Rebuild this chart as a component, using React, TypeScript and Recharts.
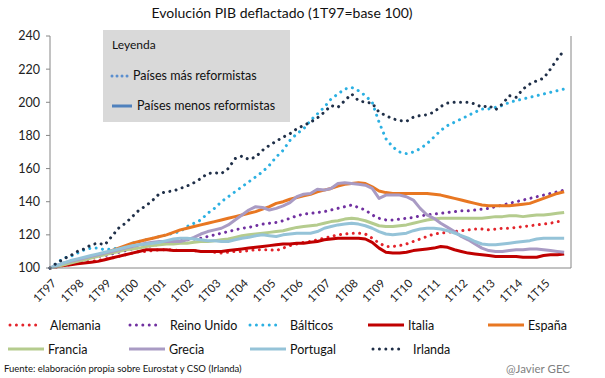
import React from 'react';
import { LineChart, Line, XAxis, YAxis } from 'recharts';

const years = ['97', '98', '99', '00', '01', '02', '03', '04', '05', '06', '07', '08', '09', '10', '11', '12', '13', '14', '15'];
const quarterNames = ['1T', '2T', '3T', '4T'];
const quarters = years.flatMap((y) => quarterNames.map((q) => q + y));
const yAxisTicks = [100, 120, 140, 160, 180, 200, 220, 240];

const alemania = [
  100, 100.5, 101.5, 102, 103, 103.5, 104, 104.5,
  105.5, 106, 107, 108, 109, 110, 110, 110.5,
  111, 111, 111, 110.5, 110.5, 110.5, 110, 110,
  109.5, 109, 109.5, 110, 110, 110.5, 111, 111,
  111, 110.5, 112, 113.5, 114.5, 115.5, 116, 117,
  118, 119, 120, 120.5, 121, 121, 120.5, 118,
  115, 113, 113, 113.5, 114.5, 116, 117.5, 119,
  120.5, 121, 121.5, 122, 122.5, 123, 123.5, 123.5,
  123, 123.5, 124, 124, 124.5, 125, 125.5, 126,
  126.5, 127, 128, 128,
];
const reinoUnido = [
  100, 101, 102, 103, 104, 105, 106, 107,
  107.5, 108.5, 109.5, 110.5, 111.5, 112.5, 113, 113.5,
  114.5, 115, 116, 116.5, 117, 117.5, 118, 119,
  120, 121, 122, 123, 124, 124.5, 125.5, 126.5,
  127, 127.5, 128.5, 130, 131.5, 132.5, 133, 133.5,
  134, 135, 136, 137, 138, 136.5, 135, 132,
  130, 129, 129, 129.5, 130, 130.5, 131.5, 132,
  132.5, 133, 133.5, 134, 134.5, 134.5, 135, 135.5,
  136, 137, 138, 139, 140, 141, 142, 143,
  144, 145, 146, 147,
];
const balticos = [
  100, 103, 106, 107, 109, 111, 112, 112,
  111, 111.5, 112, 113, 115, 116, 117, 118,
  119, 120, 121, 122, 125, 127, 129, 133,
  136, 140, 143, 146, 149, 152, 155, 158,
  162, 167, 171, 177, 181, 184, 189, 193,
  197, 202, 205, 208, 209, 207, 204, 200,
  188, 178, 173, 170, 169, 170, 172, 175,
  179, 183, 186, 188, 190, 192, 194, 196,
  196, 197, 198, 200, 201, 202, 203, 204,
  205, 206, 207, 208,
];
const italia = [
  100, 101, 101.5, 102, 102.5, 103, 103.5, 104,
  105, 106, 107, 108, 109, 110, 111, 111,
  111, 111, 110.5, 110.5, 110.5, 110.5, 110, 110,
  110, 110, 110.5, 111, 111.5, 112, 112.5, 113,
  113.5, 114, 114.5, 114.5, 115, 115, 115.5, 116,
  117, 117.5, 118, 118, 118, 118, 117.5, 115.5,
  112, 109.5, 109, 109, 109.5, 110.5, 111, 111.5,
  112, 113, 112.5, 111, 110, 109, 108.5, 108,
  107.5, 107, 107, 107, 107, 106.5, 106.5, 106.5,
  107.5, 108, 108, 108.5,
];
const espana = [
  100, 101, 102, 103.5, 104.5, 105.5, 106.5, 108,
  109, 110.5, 112, 113.5, 115, 116, 117, 118,
  119, 120, 121.5, 123, 124, 125, 126, 127,
  128, 129, 130, 131, 132, 133, 134, 135.5,
  137, 139, 140, 141.5, 142.5, 143.5, 144.5, 146,
  147, 148, 149.5, 150.5, 151, 151.5, 151, 149,
  146.5, 145.5, 145, 145, 145, 145, 145, 145,
  144.5, 144, 143, 142, 141, 140, 139, 138,
  137.5, 137.5, 137.5, 137.5, 138, 138.5, 139, 140.5,
  142, 143.5, 145, 146,
];
const francia = [
  100, 101, 102, 103, 104, 105, 106, 107,
  108, 109, 110, 111, 111.5, 112, 113, 113.5,
  114, 114.5, 114.5, 115, 115, 115.5, 116, 116,
  116.5, 117, 117.5, 118.5, 119.5, 120, 120.5, 121,
  121.5, 122, 122.5, 123.5, 124.5, 125, 125.5, 126,
  127, 128, 128.5, 129.5, 130, 129.5, 128.5, 127,
  125.5, 125, 125, 125.5, 126, 127, 128, 129,
  129.5, 130, 130, 130, 130, 130, 130, 130,
  130.5, 131, 131, 131.5, 131.5, 131, 131.5, 132,
  132, 132.5, 133, 133.5,
];
const grecia = [
  100, 101.5, 103, 104, 105, 106, 107, 108,
  109, 110, 111, 112, 113, 114, 115, 115.5,
  116, 116, 116, 116, 117, 118.5, 120.5, 122,
  123, 124, 126, 129, 132, 135, 137, 136.5,
  135, 136, 137.5, 139.5, 143, 144.5, 145, 147.5,
  147, 148, 151, 151.5, 151, 150.5, 150, 148,
  142, 144, 144, 144, 143, 141, 136, 132,
  130, 127, 124.5, 122, 119, 117, 114.5, 112,
  110.5, 110, 110, 110.5, 111, 111, 111.5, 111.5,
  111, 110.5, 110, 109.5,
];
const portugal = [
  100, 101.5, 103, 104.5, 105.5, 106.5, 107.5, 108.5,
  109.5, 110.5, 111.5, 112.5, 113.5, 114, 114.5, 115,
  115.5, 116.5, 117.5, 118, 118, 117.5, 117, 116.5,
  116.5, 116, 116, 117, 118, 118.5, 119.5, 120,
  119.5, 119, 120, 120.5, 121, 121, 121, 122,
  124, 125, 126, 126.5, 127, 126.5, 125.5, 124,
  122, 120.5, 120, 120.5, 121, 122.5, 123.5, 124,
  124, 123.5, 122.5, 121, 119.5, 118, 116, 114.5,
  114, 114, 114.5, 115, 115.5, 116, 116.5, 117.5,
  118, 118, 118, 118,
];
const irlanda = [
  100, 103, 105.5, 107.5, 110, 111.5, 114, 115,
  114, 119, 124, 127, 131, 135, 137.5, 141,
  145, 146, 146.5, 148, 149.5, 151.5, 154, 157,
  157.5, 157, 160, 166, 167.5, 165.5, 167, 171,
  174, 176.5, 179, 181, 184, 186, 188, 190.5,
  194, 198, 197, 201, 205, 201, 200, 199.5,
  194, 192, 190, 189, 188.5, 191, 192, 192.5,
  194, 197.5, 199.5, 200, 200, 200, 199, 197,
  198, 195.5, 199, 204, 203, 208, 211, 213,
  214.5, 220, 226, 231.5,
];

const series = [
  { name: 'Alemania', values: alemania, color: '#e3242b', dotted: true },
  { name: 'Reino Unido', values: reinoUnido, color: '#7030a0', dotted: true },
  { name: 'Bálticos', values: balticos, color: '#2bb0e2', dotted: true },
  { name: 'Italia', values: italia, color: '#c00000', dotted: false },
  { name: 'España', values: espana, color: '#e87722', dotted: false },
  { name: 'Francia', values: francia, color: '#b5cc8e', dotted: false },
  { name: 'Grecia', values: grecia, color: '#a99bc4', dotted: false },
  { name: 'Portugal', values: portugal, color: '#95c3d8', dotted: false },
  { name: 'Irlanda', values: irlanda, color: '#1f2f48', dotted: true },
];

const data = quarters.map((q, i) => {
  const row: Record<string, number | string> = { i, q };
  series.forEach((s) => {
    row[s.name] = s.values[i];
  });
  return row;
});

const FONT = 'Lato, "Open Sans", sans-serif';
const DOTS = '0.01 6.4';

function RotatedTick(props: any) {
  const { x, y, payload } = props;
  const ax = x + 7;
  const ay = y + 16;
  return (
    <text
      x={ax}
      y={ay}
      transform={`rotate(-45, ${ax}, ${ay})`}
      textAnchor='end'
      fontSize={11.5}
      fontFamily={FONT}
      fill='#222'
    >
      {quarters[payload.value]}
    </text>
  );
}

function Marker({ color, dotted }: { color: string; dotted: boolean }) {
  return (
    <svg width={36} height={8} style={{ display: 'block' }}>
      <line
        x1={dotted ? 2 : 0}
        y1={4}
        x2={dotted ? 34 : 36}
        y2={4}
        stroke={color}
        strokeWidth={3}
        strokeLinecap={dotted ? 'round' : 'butt'}
        strokeDasharray={dotted ? DOTS : undefined}
      />
    </svg>
  );
}

function BottomLegend() {
  return (
    <div style={{ position: 'absolute', left: 8, top: 313, width: 600 }}>
      {[series.slice(0, 5), series.slice(5)].map((row, r) => (
        <div key={r} style={{ display: 'flex', height: 24 }}>
          {row.map((s) => (
            <div key={s.name} style={{ width: 121, display: 'flex', alignItems: 'center' }}>
              <Marker color={s.color} dotted={s.dotted} />
              <span style={{ marginLeft: s.dotted ? 6 : 4, fontSize: 12.5, color: '#111' }}>{s.name}</span>
            </div>
          ))}
        </div>
      ))}
    </div>
  );
}

export default function App() {
  return (
    <div
      style={{
        position: 'absolute',
        left: 0,
        top: 0,
        width: 605,
        height: 378,
        background: '#fff',
        fontFamily: FONT,
        overflow: 'hidden',
      }}
    >
      <div style={{ position: 'absolute', left: 82, top: 4, width: 400, textAlign: 'center', fontSize: 14, color: '#111' }}>
        Evolución PIB deflactado (1T97=base 100)
      </div>

      <LineChart width={605} height={378} data={data} margin={{ top: 36, right: 0, bottom: 80, left: 10 }}>
        <XAxis
          dataKey='i'
          type='number'
          domain={[0, 76]}
          ticks={years.map((_, k) => k * 4)}
          tick={<RotatedTick />}
          tickLine={false}
          tickSize={0}
          tickMargin={0}
          height={30}
          axisLine={{ stroke: '#868686' }}
          interval={0}
        />
        <YAxis
          yAxisId='left'
          domain={[100, 240]}
          ticks={yAxisTicks}
          width={40}
          tickSize={4}
          tickMargin={6}
          axisLine={{ stroke: '#868686' }}
          tickLine={{ stroke: '#868686' }}
          tick={{ fontSize: 12.5, fill: '#222', fontFamily: FONT }}
          interval={0}
        />
        <YAxis
          yAxisId='right'
          orientation='right'
          domain={[100, 240]}
          ticks={yAxisTicks}
          width={34}
          tickSize={4}
          tickMargin={8}
          axisLine={{ stroke: '#868686' }}
          tickLine={{ stroke: '#868686' }}
          tick={{ fontSize: 12.5, fill: '#222', fontFamily: FONT, textAnchor: 'start' }}
          interval={0}
        />
        {series.map((s) => (
          <Line
            key={s.name}
            yAxisId='left'
            type='linear'
            dataKey={s.name}
            stroke={s.color}
            strokeWidth={3}
            strokeDasharray={s.dotted ? DOTS : undefined}
            strokeLinecap={s.dotted ? 'round' : 'butt'}
            strokeLinejoin='round'
            dot={false}
            activeDot={false}
            isAnimationActive={false}
          />
        ))}
      </LineChart>

      <div style={{ position: 'absolute', left: 103, top: 30, width: 187, height: 92, background: '#d9d9d9' }}>
        <div style={{ position: 'absolute', left: 9, top: 7, fontSize: 12, color: '#111' }}>Leyenda</div>
        <div style={{ position: 'absolute', left: 7, top: 38, display: 'flex', alignItems: 'center' }}>
          <svg width={21} height={8}>
            <line x1={2} y1={4} x2={20} y2={4} stroke='#5b8fcf' strokeWidth={3} strokeLinecap='round' strokeDasharray='0.01 5' />
          </svg>
          <span style={{ marginLeft: 2, fontSize: 12.5, color: '#111' }}>Países más reformistas</span>
        </div>
        <div style={{ position: 'absolute', left: 9, top: 68, display: 'flex', alignItems: 'center' }}>
          <svg width={20} height={8}>
            <line x1={0} y1={4} x2={20} y2={4} stroke='#4f81bd' strokeWidth={3} />
          </svg>
          <span style={{ marginLeft: 5, fontSize: 12.5, color: '#111' }}>Países menos reformistas</span>
        </div>
      </div>

      <BottomLegend />

      <div style={{ position: 'absolute', left: 4, top: 363, fontSize: 9.5, color: '#111' }}>
        Fuente: elaboración propia sobre Eurostat y CSO (Irlanda)
      </div>
      <div style={{ position: 'absolute', left: 506, top: 362, fontSize: 11.5, color: '#7f7f7f' }}>
        @Javier GEC
      </div>
    </div>
  );
}
